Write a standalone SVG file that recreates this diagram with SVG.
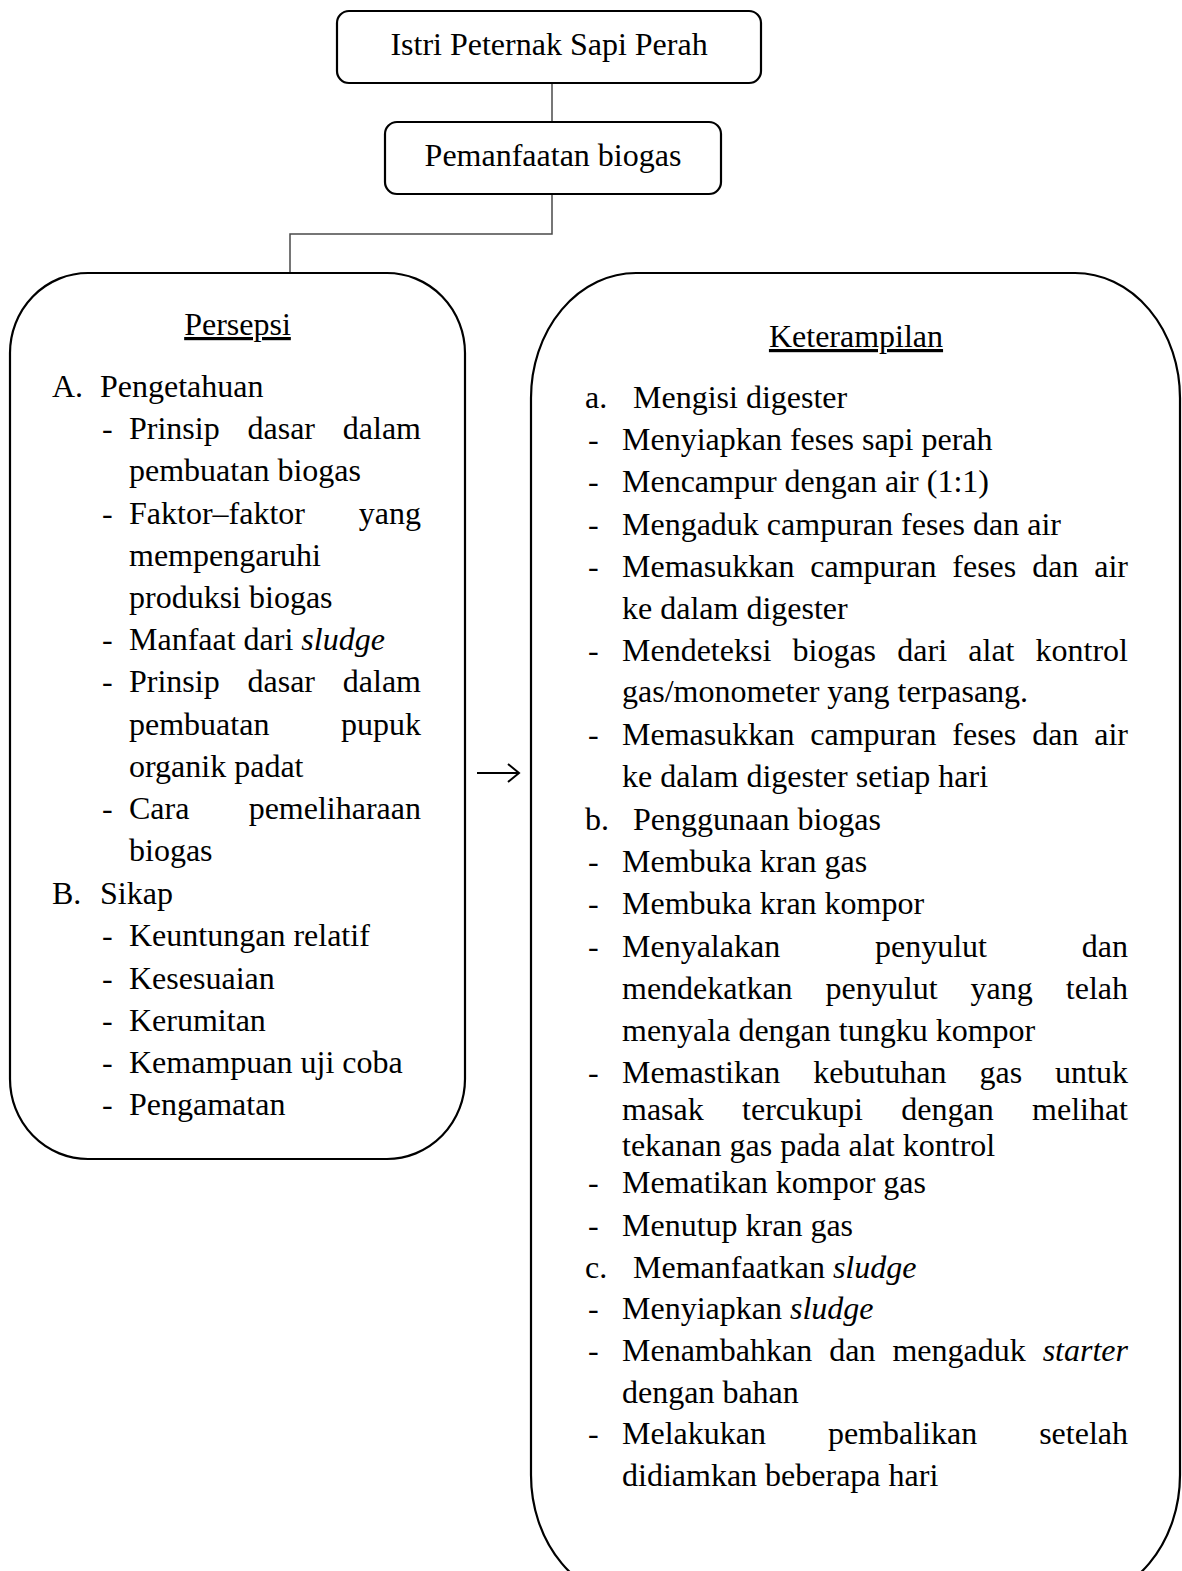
<svg xmlns="http://www.w3.org/2000/svg" width="1182" height="1571" viewBox="0 0 1182 1571">
<style>
text{font-family:"Liberation Serif","Times New Roman",serif;font-size:32px;fill:#000}
.box{fill:#fff;stroke:#000;stroke-width:2.2}
.conn{fill:none;stroke:#4a4a4a;stroke-width:1.5}
.arrow{fill:none;stroke:#000;stroke-width:2}
.u{text-decoration:underline}
.it{font-style:italic}
.e{text-anchor:end}
</style>
<rect width="1182" height="1571" fill="#fff"/>
<g id="connectors">
<path class="conn" d="M552,83 V122"/>
<path class="conn" d="M552,194 V234 H290 V273"/>
<path class="arrow" d="M477,773 H519 M508,764 L519,773 L508,782"/>
</g>
<g id="node-istri">
<rect class="box" x="337" y="11" width="424" height="72" rx="12"/>
<text x="549" y="55" text-anchor="middle">Istri Peternak Sapi Perah</text>
</g>
<g id="node-pemanfaatan">
<rect class="box" x="385" y="122" width="336" height="72" rx="12"/>
<text x="553" y="166" text-anchor="middle">Pemanfaatan biogas</text>
</g>
<g id="node-persepsi">
<rect class="box" x="10" y="273" width="455" height="886" rx="78" ry="80"/>
<text x="237.5" y="335" text-anchor="middle" class="u">Persepsi</text>
<text x="52" y="397">A.</text><text x="100" y="397">Pengetahuan</text>
<text x="102" y="439">-</text><text y="439"><tspan x="129">Prinsip</tspan><tspan x="247.5">dasar</tspan><tspan x="421" class="e">dalam</tspan></text>
<text x="129" y="481">pembuatan biogas</text>
<text x="102" y="524">-</text><text y="524"><tspan x="129">Faktor–faktor</tspan></text><text x="421" y="524" class="e">yang</text>
<text x="129" y="566">mempengaruhi</text>
<text x="129" y="608">produksi biogas</text>
<text x="102" y="650">-</text><text x="129" y="650">Manfaat dari <tspan class="it">sludge</tspan></text>
<text x="102" y="692">-</text><text y="692"><tspan x="129">Prinsip</tspan><tspan x="247.5">dasar</tspan></text><text x="421" y="692" class="e">dalam</text>
<text x="129" y="735">pembuatan</text><text x="421" y="735" class="e">pupuk</text>
<text x="129" y="777">organik padat</text>
<text x="102" y="819">-</text><text x="129" y="819">Cara</text><text x="421" y="819" class="e">pemeliharaan</text>
<text x="129" y="861">biogas</text>
<text x="52" y="904">B.</text><text x="100" y="904">Sikap</text>
<text x="102" y="946">-</text><text x="129" y="946">Keuntungan relatif</text>
<text x="102" y="989">-</text><text x="129" y="989">Kesesuaian</text>
<text x="102" y="1031">-</text><text x="129" y="1031">Kerumitan</text>
<text x="102" y="1073">-</text><text x="129" y="1073">Kemampuan uji coba</text>
<text x="102" y="1115">-</text><text x="129" y="1115">Pengamatan</text>
</g>
<g id="node-keterampilan">
<rect class="box" x="531" y="273" width="649" height="1327" rx="105" ry="125"/>
<text x="856" y="347" text-anchor="middle" class="u">Keterampilan</text>
<text x="585" y="408">a.</text><text x="633" y="408">Mengisi digester</text>
<text x="588" y="450">-</text><text x="622" y="450">Menyiapkan feses sapi perah</text>
<text x="588" y="492">-</text><text x="622" y="492">Mencampur dengan air (1:1)</text>
<text x="588" y="535">-</text><text x="622" y="535">Mengaduk campuran feses dan air</text>
<text x="588" y="577">-</text><text y="577"><tspan x="622">Memasukkan</tspan><tspan x="810.3">campuran</tspan><tspan x="952.3">feses</tspan><tspan x="1032.2">dan</tspan></text><text x="1128" y="577" class="e">air</text>
<text x="622" y="619">ke dalam digester</text>
<text x="588" y="661">-</text><text y="661"><tspan x="622">Mendeteksi</tspan><tspan x="792.5">biogas</tspan><tspan x="897.3">dari</tspan><tspan x="968.3">alat</tspan></text><text x="1128" y="661" class="e">kontrol</text>
<text x="622" y="702">gas/monometer yang terpasang.</text>
<text x="588" y="745">-</text><text y="745"><tspan x="622">Memasukkan</tspan><tspan x="810.3">campuran</tspan><tspan x="952.3">feses</tspan><tspan x="1032.2">dan</tspan></text><text x="1128" y="745" class="e">air</text>
<text x="622" y="787">ke dalam digester setiap hari</text>
<text x="585" y="830">b.</text><text x="633" y="830">Penggunaan biogas</text>
<text x="588" y="872">-</text><text x="622" y="872">Membuka kran gas</text>
<text x="588" y="914">-</text><text x="622" y="914">Membuka kran kompor</text>
<text x="588" y="957">-</text><text y="957"><tspan x="622">Menyalakan</tspan><tspan x="875">penyulut</tspan></text><text x="1128" y="957" class="e">dan</text>
<text y="999"><tspan x="622">mendekatkan</tspan><tspan x="825.6">penyulut</tspan><tspan x="970.6">yang</tspan></text><text x="1128" y="999" class="e">telah</text>
<text x="622" y="1041">menyala dengan tungku kompor</text>
<text x="588" y="1083">-</text><text y="1083"><tspan x="622">Memastikan</tspan><tspan x="813.2">kebutuhan</tspan><tspan x="979.5">gas</tspan></text><text x="1128" y="1083" class="e">untuk</text>
<text y="1120"><tspan x="622">masak</tspan><tspan x="742.1">tercukupi</tspan><tspan x="901.3">dengan</tspan></text><text x="1128" y="1120" class="e">melihat</text>
<text x="622" y="1156">tekanan gas pada alat kontrol</text>
<text x="588" y="1193">-</text><text x="622" y="1193">Mematikan kompor gas</text>
<text x="588" y="1236">-</text><text x="622" y="1236">Menutup kran gas</text>
<text x="585" y="1278">c.</text><text x="633" y="1278">Memanfaatkan <tspan class="it">sludge</tspan></text>
<text x="588" y="1319">-</text><text x="622" y="1319">Menyiapkan <tspan class="it">sludge</tspan></text>
<text x="588" y="1361">-</text><text y="1361"><tspan x="622">Menambahkan</tspan><tspan x="829.2">dan</tspan><tspan x="892.4">mengaduk</tspan></text><text x="1128" y="1361" class="e it">starter</text>
<text x="622" y="1403">dengan bahan</text>
<text x="588" y="1444">-</text><text y="1444"><tspan x="622">Melakukan</tspan><tspan x="827.9">pembalikan</tspan></text><text x="1128" y="1444" class="e">setelah</text>
<text x="622" y="1486">didiamkan beberapa hari</text>
</g>
</svg>
